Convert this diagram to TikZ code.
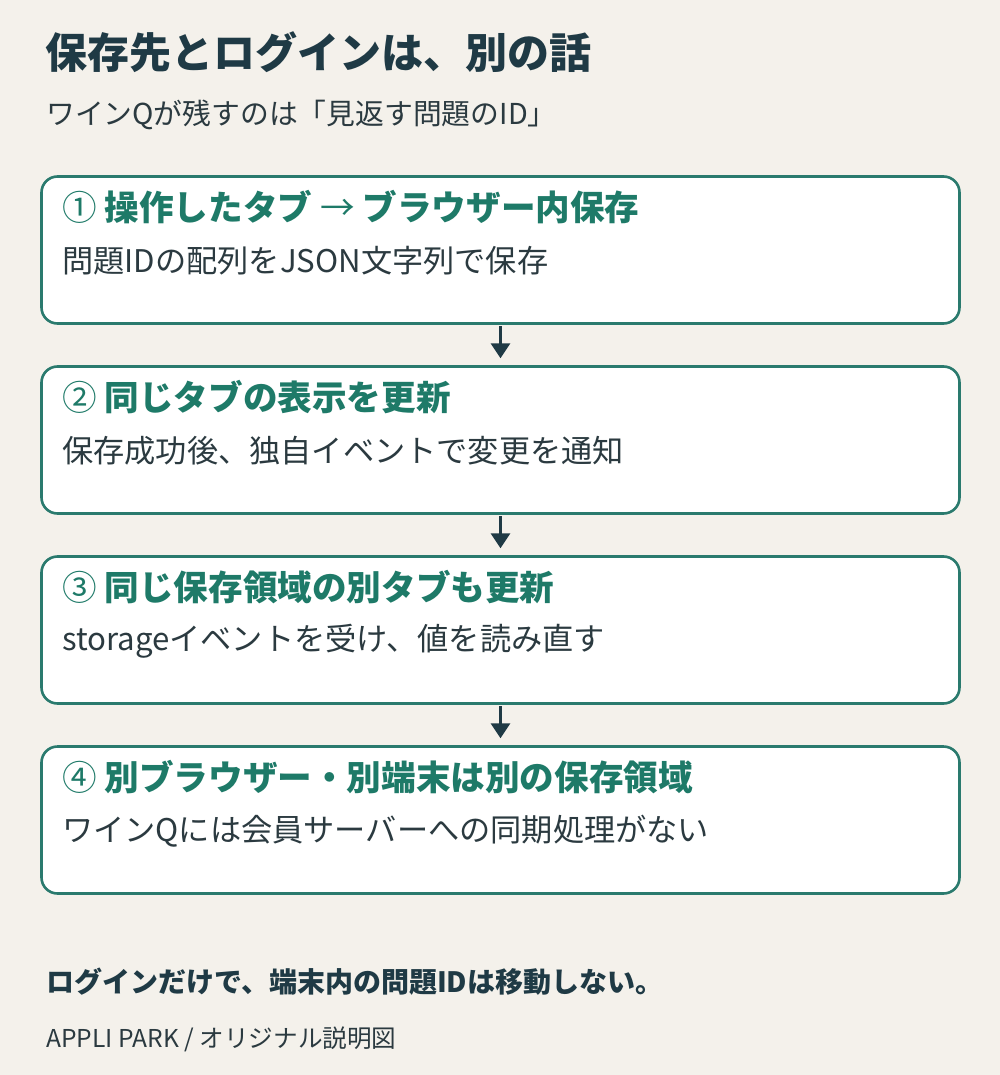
\documentclass[tikz,border=0pt]{standalone}
\usepackage{fontspec}
\setmainfont{Noto Sans CJK JP}
\usetikzlibrary{arrows.meta}
\definecolor{bgcream}{HTML}{F4F1EB}
\definecolor{tealline}{HTML}{2A7A6E}
\definecolor{tealtext}{HTML}{1E7A68}
\definecolor{inkdark}{HTML}{1F3A45}
\definecolor{bodyink}{HTML}{2B3A40}
\newcommand{\thin}[1]{{\mdseries #1}}
\tikzset{
  stepbox/.style={rectangle, draw=tealline, line width=2.6pt, fill=white, rounded corners=16pt, minimum width=918pt, minimum height=147pt},
  stephead/.style={anchor=west, inner sep=0pt, text=tealtext, font=\fontsize{34.6}{40}\selectfont\bfseries},
  stepbody/.style={anchor=west, inner sep=0pt, text=bodyink, font=\fontsize{31.2}{36}\selectfont},
  flow/.style={draw=inkdark, line width=3pt, -{Triangle[width=19pt,length=15pt]}}
}
\begin{document}
\begin{tikzpicture}[x=1pt, y=-1pt]
  \useasboundingbox[fill=bgcream] (0,0) rectangle (1000,1075);
  % Nodes
  \node (title) [anchor=west, inner sep=0pt, text=inkdark, font=\fontsize{42}{48}\selectfont\bfseries] at (45, 52) {保存先とログインは、別の話};
  \node (subtitle) [anchor=west, inner sep=0pt, text=bodyink, font=\fontsize{28.8}{34}\selectfont] at (46, 115) {ワインQが残すのは「見返す問題のID」};
  \node (box1) [stepbox] at (500.5, 250) {};
  \node (box2) [stepbox] at (500.5, 440) {};
  \node (box3) [stepbox] at (500.5, 630) {};
  \node (box4) [stepbox] at (500.5, 820) {};
  \node (head1) [stephead] at (62, 207) {\thin{①} 操作したタブ \thin{→} ブラウザー内保存};
  \node (body1) [stepbody] at (62, 261) {問題IDの配列をJSON文字列で保存};
  \node (head2) [stephead] at (62, 397) {\thin{②} 同じタブの表示を更新};
  \node (body2) [stepbody] at (62, 451) {保存成功後、独自イベントで変更を通知};
  \node (head3) [stephead] at (62, 587) {\thin{③} 同じ保存領域の別タブも更新};
  \node (body3) [stepbody] at (62, 641) {storageイベントを受け、値を読み直す};
  \node (head4) [stephead] at (62, 777) {\thin{④} 別ブラウザー・別端末は別の保存領域};
  \node (body4) [stepbody] at (62, 831) {ワインQには会員サーバーへの同期処理がない};
  \node (note) [anchor=west, inner sep=0pt, text=inkdark, font=\fontsize{28}{32}\selectfont\bfseries] at (46, 982) {ログインだけで、端末内の問題IDは移動しない。};
  \node (credit) [anchor=west, inner sep=0pt, text=bodyink, font=\fontsize{24.6}{28}\selectfont] at (46, 1039) {APPLI PARK / オリジナル説明図};
  % Arrow
  \draw[flow] (box1.south) ++(0,1.5) -- ++(0,32);
  \draw[flow] (box2.south) ++(0,1.5) -- ++(0,32);
  \draw[flow] (box3.south) ++(0,1.5) -- ++(0,32);
\end{tikzpicture}
\end{document}
